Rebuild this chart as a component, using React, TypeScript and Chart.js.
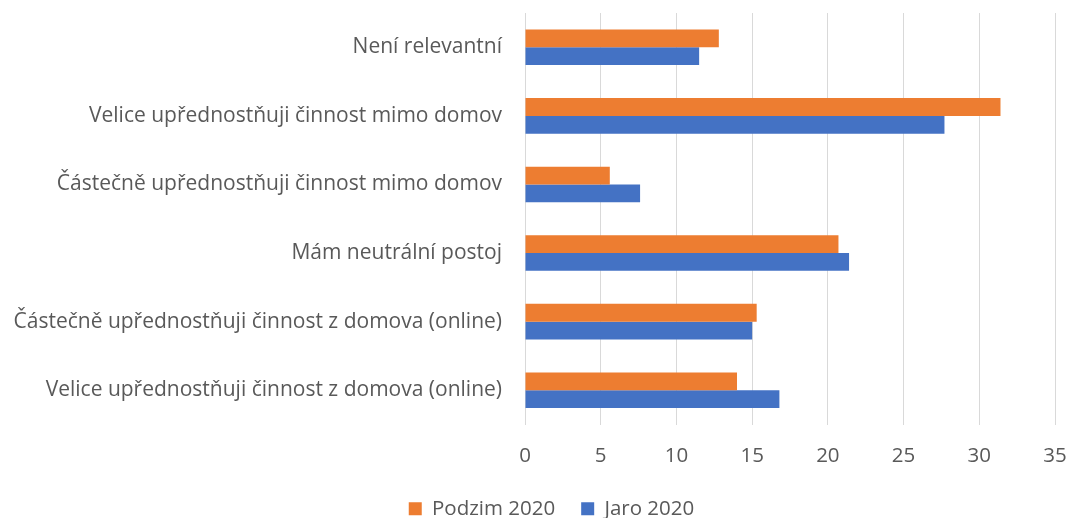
import React, { useEffect, useRef } from "react";
import { Chart, registerables } from "chart.js";

Chart.register(...registerables);

const categories = [
  "Není relevantní",
  "Velice upřednostňuji činnost mimo domov",
  "Částečně upřednostňuji činnost mimo domov",
  "Mám neutrální postoj",
  "Částečně upřednostňuji činnost z domova (online)",
  "Velice upřednostňuji činnost z domova (online)",
];
const podzim2020 = [12.8, 31.4, 5.6, 20.7, 15.3, 14.0];
const jaro2020 = [11.5, 27.7, 7.6, 21.4, 15.0, 16.8];
const xTicks = [0, 5, 10, 15, 20, 25, 30, 35];

const FONT = "'Open Sans', 'Noto Sans', sans-serif";

const legendShift = {
  id: "legendShift",
  afterLayout(chart: any) {
    const lg = chart.legend;
    if (lg) {
      lg.left += 24;
      lg.right += 24;
    }
  },
};

export default function App() {
  const ref = useRef<HTMLCanvasElement | null>(null);
  useEffect(() => {
    document.body.style.margin = "0";
    const chart = new Chart(ref.current!, {
      type: "bar",
      data: {
        labels: categories,
        datasets: [
          { label: "Podzim 2020", data: podzim2020, backgroundColor: "#ED7D31", categoryPercentage: 0.52, barPercentage: 1 },
          { label: "Jaro 2020", data: jaro2020, backgroundColor: "#4472C4", categoryPercentage: 0.52, barPercentage: 1 },
        ],
      },
      plugins: [legendShift],
      options: {
        indexAxis: "y",
        animation: false,
        responsive: false,
        layout: { padding: { left: 0, right: 12, top: 13, bottom: -11 } },
        plugins: {
          tooltip: { enabled: false },
          legend: {
            position: "bottom",
            labels: {
              color: "#595959",
              font: { family: FONT, size: 20.5 },
              boxWidth: 13,
              boxHeight: 13,
              padding: 26,
            },
          },
        },
        scales: {
          x: {
            min: 0,
            max: 35,
            afterBuildTicks: (s: any) => { s.ticks = xTicks.map((v) => ({ value: v })); },
            afterFit: (s: any) => { s.height = 48; s.paddingLeft = 0; s.paddingRight = 0; },
            grid: { color: "#d9d9d9", lineWidth: 1, drawTicks: false },
            border: { display: false },
            ticks: { color: "#595959", font: { family: FONT, size: 20.5 }, padding: 19 },
          },
          y: {
            afterFit: (s: any) => { s.width = 525; s.paddingTop = 0; s.paddingBottom = 0; },
            grid: { display: false, drawTicks: false },
            border: { display: false },
            ticks: { color: "#595959", font: { family: FONT, size: 21 }, padding: 23 },
          },
        },
      },
    });
    return () => chart.destroy();
  }, []);
  return (
    <div style={{ position: "absolute", left: 0, top: 0, width: 1067, height: 518, background: "#fff" }}>
      <canvas ref={ref} width={1067} height={518} />
    </div>
  );
}
